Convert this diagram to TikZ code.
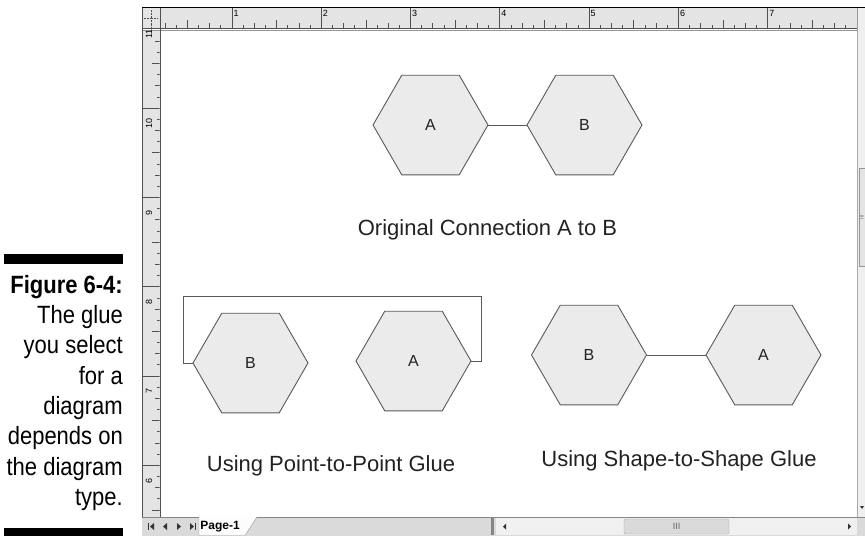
\documentclass[tikz,border=0pt]{standalone}
\usepackage{fontspec}
\setmainfont{Liberation Sans}
\newfontfamily\capfont[FakeStretch=0.88]{Liberation Sans}
\usetikzlibrary{shapes.geometric,calc}
\definecolor{hexfill}{HTML}{EBEBEB}
\definecolor{hexline}{HTML}{5A5A5A}
\definecolor{rulerbg}{HTML}{E4E4E4}
\definecolor{rulerdk}{HTML}{505050}
\definecolor{barbg}{HTML}{DADADA}
\definecolor{ink}{HTML}{222222}
\tikzset{
  hexbox/.style={regular polygon, regular polygon sides=6, minimum size=115pt,
                 inner sep=0pt, outer sep=0pt, draw=hexline, line width=0.9pt,
                 fill=hexfill, text=ink, font=\fontsize{16}{18}\selectfont},
  glue/.style={draw=hexline, line width=0.9pt},
  capline/.style={anchor=base, inner sep=0pt, text=ink, font=\fontsize{22}{26}\selectfont},
  rulertick/.style={draw=rulerdk, line width=0.5pt},
  rulernum/.style={inner sep=0pt, text=black, font=\fontsize{9}{10}\selectfont},
  uiglyph/.style={fill=black!80}}

\begin{document}
\begin{tikzpicture}[x=1pt,y=-1pt]
  \useasboundingbox (0,0) rectangle (865,536);
  % figure caption
  \fill (4,254) rectangle (123,264);
  \fill (4,528) rectangle (123,536);
  \node[anchor=north east, align=right, inner sep=0pt,
        font=\capfont\fontsize{25}{30.3}\selectfont] (figcap) at (123,275)
    {\textbf{Figure 6-4:}\\The glue\\you select\\for a\\diagram\\depends on\\the diagram\\type.};
  % window frame and rulers
  \fill[white] (142,7) rectangle (865,536);
  \fill[rulerbg] (142,8) rectangle (857,28);
  \fill[rulerbg] (142,31) rectangle (160,517);
  \fill[rulerbg!60] (857,8) rectangle (865,517);
  \draw[line width=1pt] (142,7) -- (865,7);
  \draw[rulerdk, line width=1pt] (142,28.5) -- (857,28.5);
  \draw[rulerdk!60, line width=1pt] (142,30.5) -- (857,30.5);
  \draw[rulerdk] (142.5,8) -- (142.5,517);
  \draw[rulerdk, line width=0.8pt] (160,8) -- (160,517);
  \draw[rulerdk!50] (857,8) -- (857,517);
  \draw[densely dotted, rulerdk] (144,18) -- (158,18);
  \draw[densely dotted, rulerdk] (151,10) -- (151,27);
  \begin{scope}
    \clip (160.5,8) rectangle (857,28);
    \foreach \i in {0,...,64}{
      \pgfmathsetmacro\len{ifthenelse(mod(\i,8)==0,20,ifthenelse(mod(\i,4)==0,8,ifthenelse(mod(\i,2)==0,5,3)))}
      \draw[rulertick] ({142.5+\i*11.1625},28) -- ++(0,-\len);
    }
  \end{scope}
  \foreach \n in {1,...,7}
    \node[rulernum, anchor=north west] (hnum\n) at ({142.5+\n*89.3+1.5},10) {\n};
  \begin{scope}
    \clip (142,31) rectangle (159.5,517);
    \foreach \i in {0,...,46}{
      \pgfmathsetmacro\len{ifthenelse(mod(\i,8)==0,18,ifthenelse(mod(\i,4)==0,8,ifthenelse(mod(\i,2)==0,5,3)))}
      \draw[rulertick] (160,{18.7+\i*11.1625}) -- ++(-\len,0);
    }
  \end{scope}
  \foreach \n [count=\k from 0] in {11,...,6}
    \node[rulernum, rotate=90] (vnum\n) at (149,{34+\k*89.3}) {\n};
  % right scroll bar
  \filldraw[fill=rulerbg, draw=rulerdk!60] (859,168) rectangle (865,266);
  \node[inner sep=0pt, rotate=90, text=black!60, font=\fontsize{5}{6}\selectfont] (vgrip) at (862,217) {III};
  \fill[uiglyph] (860,506) -- (864,506) -- (862,509) -- cycle;
  % bottom bar
  \fill[barbg] (142,517) rectangle (865,536);
  \draw[rulerdk!70] (142,517) -- (865,517);
  \fill[uiglyph] (148,523) rectangle (149.4,530);
  \fill[uiglyph] (150,526.5) -- (154,523) -- (154,530) -- cycle;
  \fill[uiglyph] (163,526.5) -- (167,523) -- (167,530) -- cycle;
  \fill[uiglyph] (177,523) -- (181,526.5) -- (177,530) -- cycle;
  \fill[uiglyph] (190,523) -- (194,526.5) -- (190,530) -- cycle;
  \fill[uiglyph] (194.6,523) rectangle (196,530);
  \filldraw[fill=white!92!barbg, draw=rulerdk!60] (199,517) -- (199,535.5) -- (245,535.5) -- (257,517);
  \node[inner sep=0pt, font=\fontsize{12}{13}\selectfont\bfseries] (pagetab) at (220,526.5) {Page-1};
  \fill[rulerdk!70] (491,518) rectangle (494,535);
  \fill[white!60!barbg] (496,518) rectangle (857,535);
  \fill[uiglyph] (503,526.5) -- (506,523.5) -- (506,529.5) -- cycle;
  \fill[uiglyph] (848,523.5) -- (851,526.5) -- (848,529.5) -- cycle;
  \filldraw[fill=barbg, draw=rulerdk!50, rounded corners=2pt] (624,519) rectangle (729,534);
  \node[rulernum, text=black!60] (hgrip) at (676.5,526.5) {III};
  % original connection
  \node[hexbox] (ta) at (430.5,125) {A};
  \node[hexbox] (tb) at (584.5,125) {B};
  \draw[glue] (ta.east) -- (tb.west);
  \node[capline] (torig) at (487.5,235) {Original Connection A to B};
  % point-to-point glue
  \node[hexbox] (pb) at (250.5,363) {B};
  \node[hexbox] (pa) at (413.5,361) {A};
  \coordinate (brkl) at (183,296);
  \coordinate (brkr) at (481,296);
  \draw[glue] (pb.west) -| (brkl) -- (brkr) |- (pa.east);
  \node[capline] (tpoint) at (331,471.5) {Using Point-to-Point Glue};
  % shape-to-shape glue
  \node[hexbox] (sb) at (589,355) {B};
  \node[hexbox] (sa) at (763.5,355) {A};
  \draw[glue] (sb.east) -- (sa.west);
  \node[capline] (tshape) at (679,466) {Using Shape-to-Shape Glue};
\end{tikzpicture}
\end{document}
